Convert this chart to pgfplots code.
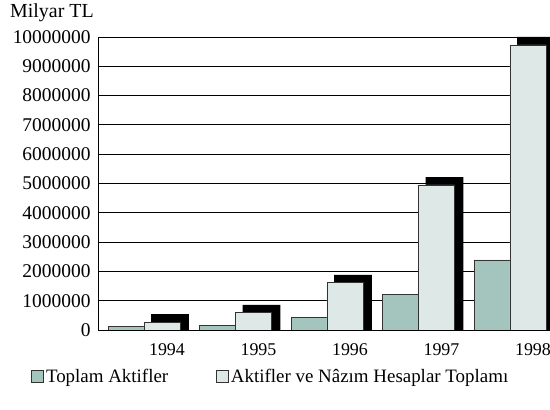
\documentclass[border=0pt]{standalone}
\usepackage{pgfplots}
\pgfplotsset{compat=1.18}
\usepackage{fontspec}
\setmainfont{Liberation Serif}
\definecolor{barA}{HTML}{A4C5BE}
\definecolor{barB}{HTML}{DEE8E6}
\begin{document}
\begin{tikzpicture}
\begin{axis}[
  at={(98bp,80bp)}, anchor=south west,
  scale only axis, width=503.6bp, height=293bp,
  xmin=-0.754, xmax=4.75, ymin=0, ymax=10000000,
  axis x line*=bottom, axis y line*=left,
  axis line style={-, line width=1pt, black},
  xtick={0,1,2,3,4}, xticklabels={1994,1995,1996,1997,1998},
  ytick={0,1000000,...,10000000},
  major tick length=0pt,
  scaled y ticks=false,
  yticklabel={\pgfmathprintnumber[fixed,1000 sep={},precision=0]{\tick}},
  /pgf/number format/assume math mode=true,
  yticklabel style={xshift=-4bp, font=\fontsize{19.5}{21}\selectfont},
  xticklabel style={yshift=-10bp, font=\fontsize{18}{20}\selectfont},
  ymajorgrids, grid style={black, line width=0.8pt},
  ybar, bar shift=0pt,
  legend columns=2,
  legend style={at={(rel axis cs:-0.133,-0.16)}, anchor=west, draw=none, fill=none,
    font=\fontsize{19}{21}\selectfont, inner sep=0pt,
    /tikz/every even column/.append style={column sep=46bp}},
  legend image code/.code={\draw[#1, draw=black!80, line width=0.8pt] (0bp,-6bp) rectangle (12bp,6bp);},
]
\addplot[fill=black, draw=none, bar width=0.415, forget plot] coordinates {
  (0.033,540000) (1.033,860000) (2.033,1885000) (3.033,5220000) (4.033,10000000)};
\addplot[fill=barA, draw=black!80, line width=0.8pt, bar width=0.393] coordinates {
  (-0.448,110000) (0.552,170000) (1.552,420000) (2.552,1220000) (3.552,2390000)};
\addlegendentry{Toplam Aktifler}
\addplot[fill=barB, draw=black!80, line width=0.8pt, bar width=0.393] coordinates {
  (-0.055,270000) (0.945,590000) (1.945,1615000) (2.945,4950000) (3.945,9730000)};
\addlegendentry{Aktifler ve Nâzım Hesaplar Toplamı}
\end{axis}
\node[anchor=west, font=\fontsize{20}{22}\selectfont, inner sep=0pt] at (10bp,397bp) {Milyar TL};
\pgfresetboundingbox
\useasboundingbox (0,0) rectangle (550bp,410bp);
\end{tikzpicture}
\end{document}
